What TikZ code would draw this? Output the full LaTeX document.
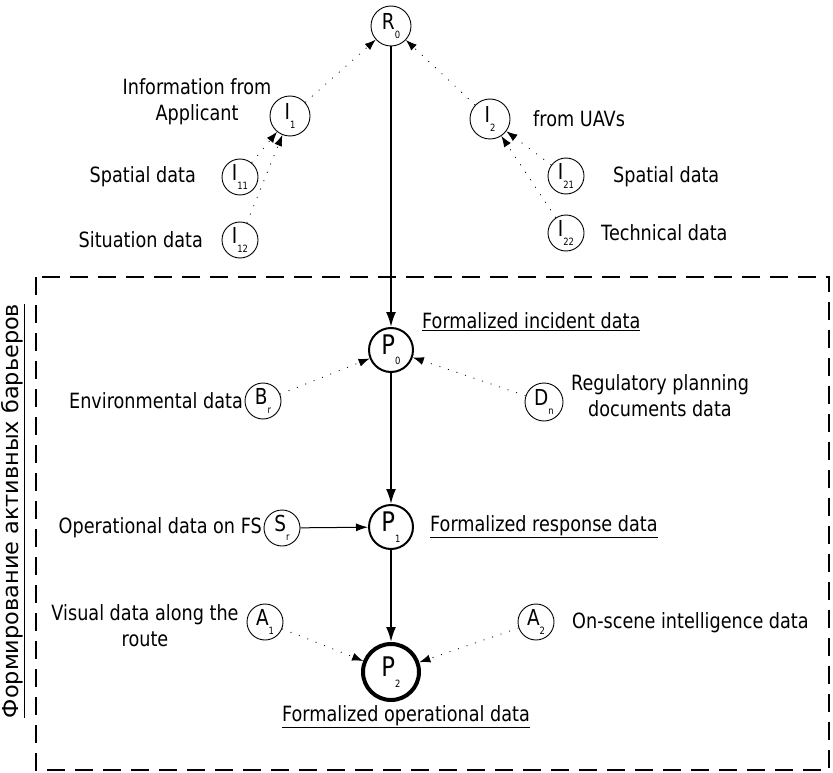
\documentclass[tikz,border=0pt]{standalone}
\usepackage{fontspec}
\setmainfont[FakeStretch=0.84]{DejaVu Sans}
\usetikzlibrary{arrows.meta}
\usetikzlibrary{positioning}
\newcommand{\circlab}[2]{#1\raisebox{-0.7ex}{\fontsize{10}{10}\selectfont #2}}
\tikzset{
  datanode/.style={circle, draw, line width=0.9pt, inner sep=0pt, minimum size=36pt, font=\fontsize{22}{22}\selectfont},
  infonode/.style={datanode, minimum size=40pt},
  procnode/.style={datanode, line width=2pt, minimum size=44pt, font=\fontsize{27}{27}\selectfont},
  resnode/.style={procnode, line width=4pt, minimum size=56pt},
  txt/.style={inner sep=0pt, font=\fontsize{21}{26}\selectfont},
  flow/.style={line width=2pt, -{Latex[length=15pt,width=10pt]}},
  dataflow/.style={line width=0.8pt, dash pattern=on 1pt off 8pt, -{Latex[length=11pt,width=8pt]}},
}

\begin{document}
\begin{tikzpicture}[x=1pt, y=-1pt]
  \useasboundingbox (0,0) rectangle (833,773);

  % barrier frame
  \draw[line width=2.5pt, dash pattern=on 18pt off 10pt] (36,277) rectangle (829,770);
  \node[txt, rotate=90] (barriers) at (13,511) {\scalebox{1.27}[1.05]{\underline{Формирование активных барьеров}}};

  % request and information sources
  \node[infonode] (R0) at (391,26) {\circlab{R}{0}};
  \node[infonode] (I1) at (290,116) {\circlab{I}{1}};
  \node[datanode] (I11) at (240,177) {\circlab{I}{11}};
  \node[datanode] (I12) at (240,240) {\circlab{I}{12}};
  \node[infonode] (I2) at (490,119) {\circlab{I}{2}};
  \node[datanode] (I21) at (566,176) {\circlab{I}{21}};
  \node[datanode] (I22) at (566,233) {\circlab{I}{22}};

  \node[txt, align=center] (I1text) at (197,102) {Information from\\Applicant};
  \node[txt, anchor=east] (I11text) at (196,177) {Spatial data};
  \node[txt, anchor=east] (I12text) at (203,240) {Situation data};
  \node[txt, anchor=west] (I2text) at (533,119) {from UAVs};
  \node[txt, anchor=west] (I21text) at (613,177) {Spatial data};
  \node[txt, anchor=west] (I22text) at (601,233) {Technical data};

  % processing chain
  \node[procnode] (P0) at (391,350) {\circlab{P}{0}};
  \node[procnode] (P1) at (391,527) {\circlab{P}{1}};
  \node[resnode] (P2) at (391,672) {\circlab{P}{2}};

  \node[datanode] (Br) at (263,401) {\circlab{B}{r}};
  \node[datanode, minimum size=38pt] (Dn) at (544,402) {\circlab{D}{n}};
  \node[datanode] (Sr) at (282,528) {\circlab{S}{r}};
  \node[datanode] (A1) at (265,622) {\circlab{A}{1}};
  \node[datanode] (A2) at (536,622) {\circlab{A}{2}};

  \node[txt, anchor=west] (P0text) at (422,322) {\underline{Formalized incident data}};
  \node[txt, anchor=west] (P1text) at (430,527) {\underline{Formalized response data}};
  \node[txt] (P2text) at (406,717) {\underline{Formalized operational data}};
  \node[txt, anchor=east] (Brtext) at (243,401) {Environmental data};
  \node[txt, align=center] (Dntext) at (660,396) {Regulatory planning\\documents data};
  \node[txt, anchor=east] (Srtext) at (262,528) {Operational data on FS};
  \node[txt, align=center] (A1text) at (145,626) {Visual data along the\\route};
  \node[txt, anchor=west] (A2text) at (572,623) {On-scene intelligence data};

  % connectors
  \draw[flow] (R0) -- (P0);
  \draw[flow] (P0) -- (P1);
  \draw[flow] (P1) -- (P2);
  \draw[line width=1pt, -{Latex[length=12pt,width=8pt]}] (Sr) -- (P1);

  \draw[dataflow] (I1) -- (R0);
  \draw[dataflow] (I2) -- (R0);
  \draw[dataflow] (I11) -- (I1);
  \draw[dataflow] (I12) -- (I1);
  \draw[dataflow] (I21) -- (I2);
  \draw[dataflow] (I22) -- (I2);
  \draw[dataflow] (Br) -- (P0);
  \draw[dataflow] (Dn) -- (P0);
  \draw[dataflow] (A1) -- (P2);
  \draw[dataflow] (A2) -- (P2);
\end{tikzpicture}
\end{document}
